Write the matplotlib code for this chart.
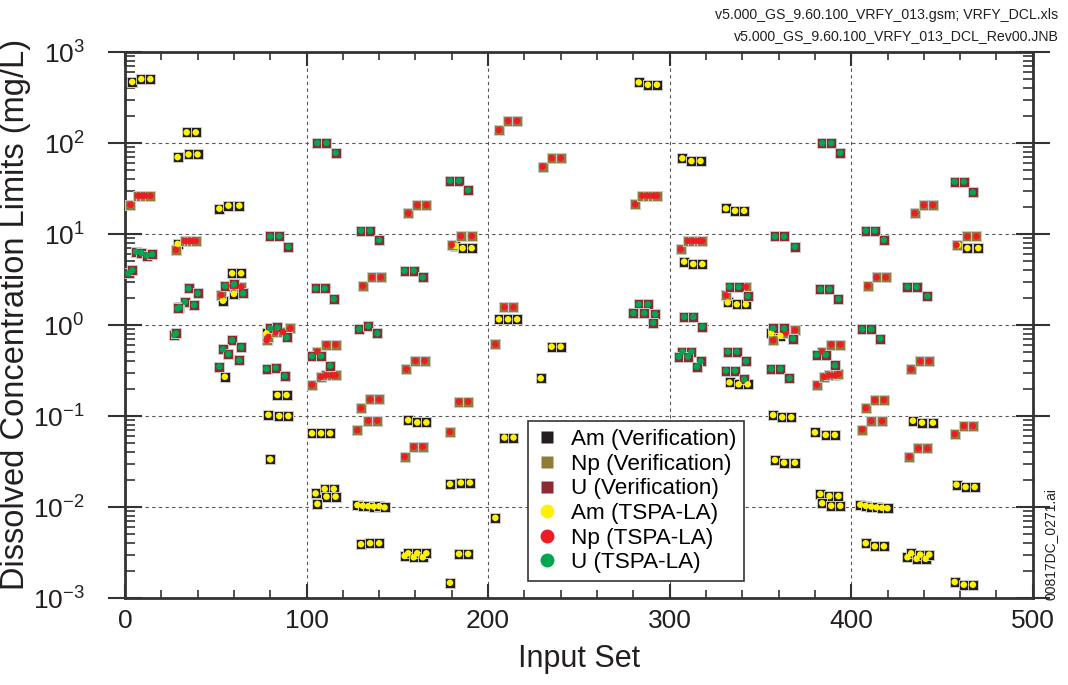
#!/usr/bin/env python3
"""Dissolved concentration limits: verification vs TSPA-LA, per input set."""

import matplotlib
matplotlib.use('Agg')
import matplotlib.pyplot as plt
from matplotlib.lines import Line2D
from matplotlib.ticker import MultipleLocator, LogLocator, FixedLocator

# ---- data ----
am_x = [4, 9, 14, 34, 39, 29, 35, 40, 52, 57, 63, 29, 59, 64, 60, 54, 55, 78,
        84, 89, 79, 85, 90, 80, 103, 108, 113, 105, 110, 115, 111, 116, 106,
        128, 131, 134, 137, 140, 143, 130, 135, 140, 156, 161, 166,
        154, 156, 159, 161, 164, 166, 179, 185, 190, 184, 189, 179,
        182, 186, 191, 206, 211, 216, 209, 214, 204, 229, 235, 240,
        283, 288, 293, 307, 312, 317, 308, 313, 318, 331, 336, 341,
        332, 337, 342, 333, 338, 343, 356, 361, 357, 362, 367, 358, 363, 369,
        380, 386, 391, 383, 388, 393, 384, 389, 394,
        405, 408, 411, 414, 417, 420, 408, 413, 418,
        434, 439, 445, 431, 433, 436, 438, 441, 443,
        459, 464, 470, 458, 463, 468, 457, 462, 467]
am_y = [470, 505, 505, 131, 131, 70, 75, 75, 19, 20.5, 20.5, 7.8, 3.7, 3.7, 2.2, 1.85, 0.27, 0.81,
        0.17, 0.17, 0.103, 0.10, 0.10, 0.0334, 0.0646, 0.0646, 0.0646, 0.0141, 0.0158, 0.0158, 0.013, 0.013, 0.0108,
        0.0105, 0.0103, 0.0102, 0.0101, 0.0102, 0.0099, 0.0039, 0.0040, 0.0040, 0.090, 0.085, 0.085,
        0.0029, 0.0031, 0.0028, 0.0031, 0.0028, 0.0031, 0.0179, 0.0185, 0.0185, 0.00305, 0.00305, 0.00147,
        7.4, 7.0, 7.0, 1.155, 1.155, 1.155, 0.058, 0.058, 0.0076, 0.26, 0.578, 0.578,
        464, 437, 437, 68, 63.4, 63.4, 4.97, 4.68, 4.68, 19.1, 18.0, 18.0,
        1.77, 1.69, 1.69, 0.234, 0.223, 0.223, 0.81, 0.76, 0.1026, 0.097, 0.097, 0.0328, 0.0307, 0.0307,
        0.066, 0.062, 0.062, 0.0139, 0.0132, 0.0132, 0.011, 0.0103, 0.0103,
        0.0106, 0.0103, 0.0101, 0.0099, 0.0098, 0.0097, 0.0040, 0.0037, 0.0037,
        0.0888, 0.0845, 0.0845, 0.0028, 0.0031, 0.0027, 0.0030, 0.0027, 0.0030,
        7.57, 7.0, 7.0, 0.0176, 0.0166, 0.0166, 0.0015, 0.0014, 0.0014]

np_x = [3, 7, 9, 11, 14, 28, 33, 35, 37, 39, 53, 56, 60, 64,
        78, 79, 83, 87, 91, 103, 106, 108, 111, 114, 116, 111, 116,
        131, 136, 141, 130, 135, 140, 128, 134, 139,
        156, 161, 166, 155, 160, 165, 154, 159, 164,
        180, 185, 191, 184, 189, 179, 206, 211, 216, 204, 209, 214, 230, 235, 240,
        281, 285, 288, 291, 293, 306, 310, 313, 316, 318, 331, 342,
        357, 364, 369, 384, 389, 394, 381, 385, 388, 391, 393,
        409, 414, 419, 408, 413, 418, 406, 411, 417,
        435, 440, 445, 433, 438, 443, 432, 437, 442,
        458, 464, 469, 457, 462, 467]
np_y = [21, 26.4, 26.4, 26.4, 26.4, 6.7, 8.4, 8.4, 8.4, 8.4, 2.14, 2.7, 2.65, 2.63,
        0.68, 0.74, 0.84, 0.84, 0.92, 0.22, 0.51, 0.27, 0.28, 0.28, 0.28, 0.61, 0.61,
        2.69, 3.34, 3.34, 0.122, 0.152, 0.152, 0.070, 0.089, 0.089,
        16.9, 20.8, 20.8, 0.326, 0.405, 0.405, 0.0357, 0.046, 0.046,
        7.6, 9.5, 9.5, 0.144, 0.144, 0.067, 139, 175, 175, 0.614, 1.57, 1.57, 55, 68.4, 68.4,
        21.2, 26.4, 26.4, 26.4, 26.4, 6.8, 8.4, 8.4, 8.4, 8.4, 2.12, 2.63,
        0.68, 0.82, 0.88, 0.51, 0.61, 0.61, 0.22, 0.27, 0.28, 0.28, 0.29,
        2.69, 3.34, 3.34, 0.122, 0.15, 0.15, 0.071, 0.088, 0.088,
        16.9, 20.8, 20.8, 0.326, 0.40, 0.40, 0.0357, 0.044, 0.044,
        7.57, 9.4, 9.4, 0.0634, 0.078, 0.078]

u_x = [2, 4, 6, 9, 12, 15, 35, 40, 33, 30, 38, 29, 27, 28,
       55, 60, 65, 59, 64, 54, 57, 63, 52,
       80, 85, 90, 80, 84, 89, 78, 83, 88,
       106, 111, 116, 105, 110, 115, 103, 108, 113,
       129, 134, 139, 130, 135, 140, 154, 159, 164, 179, 184, 189,
       283, 288, 280, 286, 292, 291, 308, 313, 318, 307, 312, 305, 310, 317, 315,
       333, 338, 343, 332, 337, 342, 331, 336, 341,
       358, 363, 369, 357, 363, 368, 356, 361, 366,
       384, 389, 394, 383, 388, 393, 381, 386, 391,
       408, 413, 418, 406, 411, 416, 431, 436, 442, 457, 462, 467]
u_y = [3.7, 4.0, 6.4, 6.2, 5.8, 6.0, 2.53, 2.23, 1.80, 1.56, 1.66, 1.52, 0.776, 0.81,
       2.69, 2.82, 2.23, 0.68, 0.57, 0.54, 0.48, 0.41, 0.35,
       9.4, 9.5, 7.25, 0.92, 0.94, 0.73, 0.33, 0.34, 0.275,
       100, 100, 78, 2.53, 2.53, 1.93, 0.456, 0.456, 0.357,
       0.90, 0.98, 0.81, 10.9, 10.9, 8.6, 3.95, 3.95, 3.34, 38.6, 38.6, 30.4,
       1.69, 1.69, 1.35, 1.35, 1.32, 1.06, 1.23, 1.23, 0.96, 0.51, 0.51, 0.45, 0.45, 0.40, 0.35,
       2.63, 2.63, 2.08, 0.51, 0.51, 0.40, 0.315, 0.315, 0.253,
       9.4, 9.4, 7.25, 0.92, 0.92, 0.71, 0.33, 0.33, 0.26,
       100, 100, 78, 2.47, 2.47, 1.93, 0.47, 0.47, 0.36,
       10.9, 10.9, 8.6, 0.90, 0.90, 0.71, 2.63, 2.63, 2.08, 37.6, 37.6, 28.7]

species = ['Am', 'Np', 'U']
verif_colors = ['#231f20', '#8f7c3b', '#8c2a32']
tspa_colors = ['#fff200', '#ed1c24', '#00a651']

# ---- style ----
plt.rcParams['font.family'] = ['Liberation Sans', 'DejaVu Sans']
plt.rcParams['mathtext.fontset'] = 'custom'
plt.rcParams['mathtext.rm'] = 'Liberation Sans'
plt.rcParams['mathtext.it'] = 'Liberation Sans:italic'
AXIS_COLOR = '#333333'
TEXT_COLOR = '#231f20'

fig = plt.figure(figsize=(10.68, 6.85), dpi=100)
ax = fig.add_axes([0.117, 0.127, 0.850, 0.797])

data = [(am_x, am_y), (np_x, np_y), (u_x, u_y)]

# verification squares first, TSPA-LA circles on top
for (xs, ys), col in zip(data, verif_colors):
    ax.scatter(xs, ys, marker='s', s=58, c=col, edgecolors='#c9c9c9',
               linewidths=0.7, zorder=3)
for (xs, ys), col in zip(data, tspa_colors):
    ax.scatter(xs, ys, marker='o', s=22, c=col, edgecolors='none', zorder=4)

ax.set_yscale('log')
ax.set_xlim(0, 500)
ax.set_ylim(1e-3, 1e3)

ax.xaxis.set_major_locator(MultipleLocator(100))
ax.xaxis.set_minor_locator(MultipleLocator(20))
ax.yaxis.set_major_locator(FixedLocator([1e-3, 1e-2, 1e-1, 1, 10, 100, 1000]))
ax.yaxis.set_minor_locator(LogLocator(base=10, subs=range(2, 10), numticks=20))
ax.set_yticklabels([r'$10^{-3}$', r'$10^{-2}$', r'$10^{-1}$', r'$10^{0}$',
                    r'$10^{1}$', r'$10^{2}$', r'$10^{3}$'])

ax.tick_params(axis='x', which='major', direction='in', length=10, width=1.5,
               top=True, bottom=True, labelsize=19, pad=8, colors=AXIS_COLOR,
               labelcolor=TEXT_COLOR)
ax.tick_params(axis='x', which='minor', direction='in', length=6, width=1.2,
               top=True, bottom=True, colors=AXIS_COLOR)
ax.tick_params(axis='y', which='major', direction='inout', length=24, width=1.5,
               left=True, right=True, labelsize=19, pad=17, colors=AXIS_COLOR,
               labelcolor=TEXT_COLOR)
ax.tick_params(axis='y', which='minor', direction='in', length=7, width=1.2,
               left=True, right=True, colors=AXIS_COLOR)

for sp in ax.spines.values():
    sp.set_linewidth(2.0)
    sp.set_color(AXIS_COLOR)

ax.grid(True, which='major', linestyle=(0, (3, 3)), color='#555555',
        linewidth=0.8)
ax.set_axisbelow(True)

ax.set_xlabel('Input Set', fontsize=22, labelpad=8, color=TEXT_COLOR)
ax.set_ylabel('Dissolved Concentration Limits (mg/L)', fontsize=23.5,
              color=TEXT_COLOR)
ax.yaxis.set_label_coords(-0.103, 0.52)

# legend
handles = []
for name, col in zip(species, verif_colors):
    handles.append(Line2D([], [], ls='none', marker='s', markersize=9,
                          markerfacecolor=col, markeredgecolor='none',
                          label=f'{name} (Verification)'))
for name, col in zip(species, tspa_colors):
    handles.append(Line2D([], [], ls='none', marker='o', markersize=10,
                          markerfacecolor=col, markeredgecolor='none',
                          label=f'{name} (TSPA-LA)'))
leg = ax.legend(handles=handles, loc='lower left',
                bbox_to_anchor=(0.444, 0.031), borderaxespad=0,
                fontsize=16.2, fancybox=False, framealpha=1,
                edgecolor=AXIS_COLOR, labelspacing=0.16, handlelength=1.0,
                handletextpad=0.55, borderpad=0.35)
leg.get_frame().set_linewidth(1.2)
leg.set_zorder(5)

# file annotations
fig.text(0.991, 0.978, 'v5.000_GS_9.60.100_VRFY_013.gsm; VRFY_DCL.xls',
         ha='right', va='center', fontsize=10.2, color=TEXT_COLOR)
fig.text(0.991, 0.947, 'v5.000_GS_9.60.100_VRFY_013_DCL_Rev00.JNB',
         ha='right', va='center', fontsize=10.2, color=TEXT_COLOR)
fig.text(0.984, 0.206, '00817DC_0271.ai', rotation=90, ha='center',
         va='center', fontsize=10, color=TEXT_COLOR)

fig.savefig('out.png', dpi=100)
